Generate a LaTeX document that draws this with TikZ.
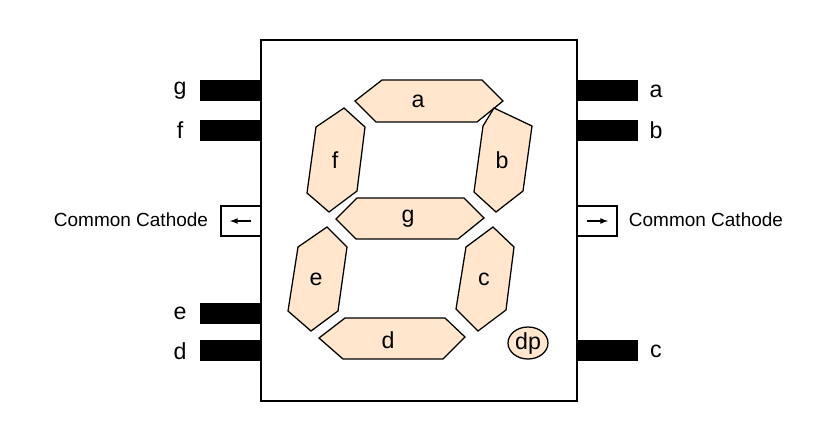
\documentclass[tikz,border=0pt]{standalone}
\usepackage{fontspec}
\setmainfont{Liberation Sans}
\begin{document}
\begin{tikzpicture}[x=0.025cm, y=-0.025cm,
	segment/.style={draw, fill=seg, line width=0.9pt},
	pin/.style={fill=black},
	lbl/.style={font=\fontsize{16.5}{18}\selectfont},
	small/.style={font=\fontsize{13.5}{15}\selectfont}]
	\definecolor{seg}{HTML}{FFE6CC}
	\useasboundingbox (0,0) rectangle (840,442);
	\draw[line width=0.9pt] (261,40) rectangle (577,401);
	% pins
	\fill[pin] (200,80) rectangle (261,101);
	\fill[pin] (200,120) rectangle (261,141);
	\fill[pin] (200,303) rectangle (261,324);
	\fill[pin] (200,340) rectangle (261,361);
	\fill[pin] (577,80) rectangle (638,101);
	\fill[pin] (577,120) rectangle (638,141);
	\fill[pin] (577,340) rectangle (638,361);
	\node[lbl] (pg) at (180,91) {g};
	\node[lbl] (pf) at (180,130) {f};
	\node[lbl] (pe) at (180,313) {e};
	\node[lbl] (pd) at (180,351) {d};
	\node[lbl] (pa) at (656,91) {a};
	\node[lbl] (pb) at (656,130) {b};
	\node[lbl] (pc) at (656,351) {c};
	% common cathode
	\draw[line width=0.9pt] (221,206) rectangle (261,236);
	\draw[line width=0.9pt] (577,206) rectangle (617,236);
	\draw[-latex, line width=0.9pt] (251,221) -- (230,221);
	\draw[-latex, line width=0.9pt] (587,221) -- (608,221);
	\node[small, anchor=east] (ccl) at (213,220) {Common Cathode};
	\node[small, anchor=west] (ccr) at (624,220) {Common Cathode};
	% segments
	\draw[segment] (355,101) -- (382,80) -- (482,80) -- (503,101) -- (477,122) -- (376,122) -- cycle;
	\draw[segment] (336,219) -- (357,198) -- (464,198) -- (484,218) -- (458,239) -- (356,239) -- cycle;
	\draw[segment] (319,338) -- (345,318) -- (445,318) -- (465,337) -- (443,359) -- (343,359) -- cycle;
	\draw[segment] (344,108) -- (365,127) -- (357,191) -- (329,212) -- (307,193) -- (316,127) -- cycle;
	\draw[segment] (494,108) -- (532,126) -- (523,191) -- (496,212) -- (474,192) -- (483,126) -- cycle;
	\draw[segment] (327,227) -- (347,247) -- (338,311) -- (311,331) -- (288,311) -- (298,247) -- cycle;
	\draw[segment] (493,227) -- (514,247) -- (506,310) -- (478,331) -- (456,309) -- (466,247) -- cycle;
	\draw[segment] (528,343) ellipse [x radius=20, y radius=16];
	\node[lbl] (sa) at (418,101) {a};
	\node[lbl] (sb) at (502,160) {b};
	\node[lbl] (sc) at (484,279) {c};
	\node[lbl] (sd) at (388,340) {d};
	\node[lbl] (se) at (316,279) {e};
	\node[lbl] (sf) at (335,160) {f};
	\node[lbl] (sg) at (408,219) {g};
	\node[lbl] (sdp) at (528,343) {dp};
\end{tikzpicture}
\end{document}
